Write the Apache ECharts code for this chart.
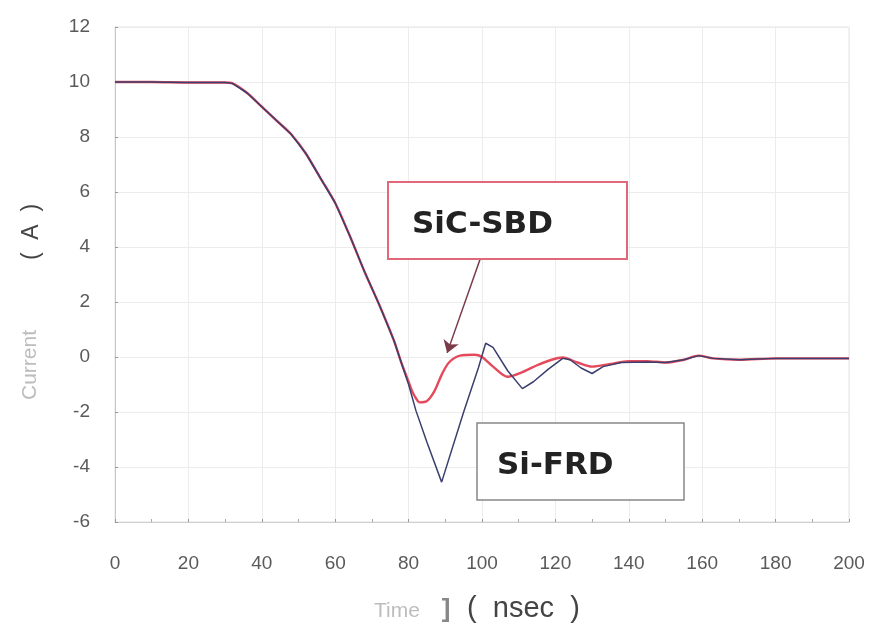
<!DOCTYPE html>
<html>
<head lang="en">
    <meta charset="UTF-8">
    <title>Current vs Time</title>
    <script src="https://cdn.jsdelivr.net/npm/echarts@6/dist/echarts.min.js"></script>
    <style>
        html, body { margin: 0; padding: 0; background: #fff; }
        #chart { width: 884px; height: 634px; }
    </style>
</head>
<body>
<div id="chart"></div>
<script>
    // common part of both curves (before they split)
    var sharedTime = [0, 10, 20, 30, 32, 36, 40, 44, 48, 52, 56, 60, 64, 68, 72, 76, 78];
    var sharedCurrent = [10.0, 10.0, 9.98, 9.98, 9.95, 9.6, 9.1, 8.6, 8.1, 7.4, 6.5, 5.6, 4.4, 3.1, 1.9, 0.6, -0.2];

    // SiC-SBD after the split
    var sicTime = [80, 81, 82, 83, 85, 87, 89, 91, 94, 98, 100, 103, 107, 111, 115, 119, 122, 126, 130, 135, 140, 145, 150, 155, 159, 163, 170, 180, 190, 200];
    var sicCurrent = [-0.9, -1.25, -1.5, -1.65, -1.6, -1.25, -0.65, -0.2, 0.05, 0.08, 0.0, -0.35, -0.72, -0.55, -0.3, -0.1, -0.02, -0.2, -0.35, -0.25, -0.15, -0.15, -0.2, -0.1, 0.05, -0.05, -0.1, -0.05, -0.05, -0.05];

    // Si-FRD after the split
    var siTime = [80, 82, 85, 89, 95, 99, 101, 103, 107, 111, 114, 118, 122, 124, 127, 130, 133, 138, 145, 150, 155, 159, 163, 170, 180, 190, 200];
    var siCurrent = [-1.0, -1.95, -3.1, -4.55, -2.0, -0.4, 0.5, 0.35, -0.5, -1.15, -0.9, -0.45, -0.05, -0.1, -0.4, -0.6, -0.35, -0.2, -0.18, -0.2, -0.1, 0.05, -0.05, -0.1, -0.05, -0.05, -0.05];

    var xTicks = { min: 0, max: 200, interval: 20 };
    var yTicks = { min: -6, max: 12, interval: 2 };

    function pairs(t, v) {
        var out = [];
        for (var i = 0; i < t.length; i++) out.push([t[i], v[i]]);
        return out;
    }

    var sicData = pairs(sharedTime.concat(sicTime), sharedCurrent.concat(sicCurrent));
    var siData = pairs(sharedTime.concat(siTime), sharedCurrent.concat(siCurrent));

    var myChart = echarts.init(document.getElementById('chart'));
    var labelFont = 'Liberation Sans';

    var option = {
        backgroundColor: '#fff',
        animation: false,
        grid: {
            left: 115, right: 35, top: 27, bottom: 112,
            show: true, borderColor: '#e2e2e2', borderWidth: 1
        },
        xAxis: {
            type: 'value',
            min: xTicks.min, max: xTicks.max, interval: xTicks.interval,
            axisLine: { show: true, onZero: false, lineStyle: { color: '#cfcfcf', width: 1 } },
            axisTick: { show: true, length: 3, inside: true, lineStyle: { color: '#999' } },
            minorTick: { show: true, splitNumber: 2, length: 3, lineStyle: { color: '#aaa' } },
            splitLine: { show: true, lineStyle: { color: '#ececec', width: 1 } },
            axisLabel: { color: '#5a5a5a', fontSize: 19, fontFamily: labelFont, margin: 32 }
        },
        yAxis: {
            type: 'value',
            min: yTicks.min, max: yTicks.max, interval: yTicks.interval,
            axisLine: { show: true, lineStyle: { color: '#c8c8c8', width: 1 } },
            axisTick: { show: true, length: 3, inside: true, lineStyle: { color: '#999' } },
            splitLine: { show: true, lineStyle: { color: '#ececec', width: 1 } },
            axisLabel: { color: '#5a5a5a', fontSize: 19, fontFamily: labelFont, margin: 25 }
        },
        graphic: [
            // y axis name
            {
                type: 'text', x: 32, y: 232, rotation: Math.PI / 2,
                style: { text: '(  A  )', fill: '#444', font: '23px "Liberation Sans"', align: 'center', verticalAlign: 'middle' }
            },
            {
                type: 'text', x: 30, y: 365, rotation: Math.PI / 2,
                style: { text: 'Current', fill: '#bdbdbd', font: '21px "Liberation Sans"', align: 'center', verticalAlign: 'middle' }
            },
            // x axis name
            {
                type: 'text', x: 374, y: 611,
                style: { text: 'Time', fill: '#bdbdbd', font: '21px "Liberation Sans"', align: 'left', verticalAlign: 'middle' }
            },
            {
                type: 'text', x: 446, y: 610,
                style: { text: ']', fill: '#888', font: 'bold 26px "Liberation Sans"', align: 'center', verticalAlign: 'middle' }
            },
            {
                type: 'text', x: 467, y: 609,
                style: { text: '(  nsec  )', fill: '#444', font: '29px "Liberation Sans"', align: 'left', verticalAlign: 'middle' }
            },
            // annotation boxes
            {
                type: 'rect', z: 20,
                shape: { x: 388, y: 182, width: 239, height: 77 },
                style: { fill: '#fff', stroke: '#e06878', lineWidth: 2 }
            },
            {
                type: 'text', z: 21, x: 412, y: 225,
                style: { text: 'SiC-SBD', fill: '#222', font: 'bold 31px "DejaVu Sans"', align: 'left', verticalAlign: 'middle' }
            },
            {
                type: 'rect', z: 20,
                shape: { x: 477, y: 423, width: 207, height: 77 },
                style: { fill: '#fff', stroke: '#888', lineWidth: 1.5 }
            },
            {
                type: 'text', z: 21, x: 497, y: 466,
                style: { text: 'Si-FRD', fill: '#222', font: 'bold 31px "DejaVu Sans"', align: 'left', verticalAlign: 'middle' }
            }
        ],
        series: [
            {
                name: 'SiC-SBD',
                type: 'line',
                data: sicData,
                symbol: 'none',
                smooth: 0.3,
                z: 2,
                lineStyle: { color: '#e44a5c', width: 2.4 },
                markLine: {
                    silent: true,
                    symbol: ['none', 'arrow'],
                    symbolSize: 12,
                    label: { show: false },
                    lineStyle: { color: '#7a3a48', width: 1.5, type: 'solid' },
                    data: [[{ coord: [99.5, 3.56] }, { coord: [90.5, 0.15] }]]
                }
            },
            {
                name: 'Si-FRD',
                type: 'line',
                data: siData,
                symbol: 'none',
                z: 3,
                lineStyle: { color: '#3a3f6e', width: 1.5 }
            }
        ]
    };

    myChart.setOption(option);
</script>
</body>
</html>
